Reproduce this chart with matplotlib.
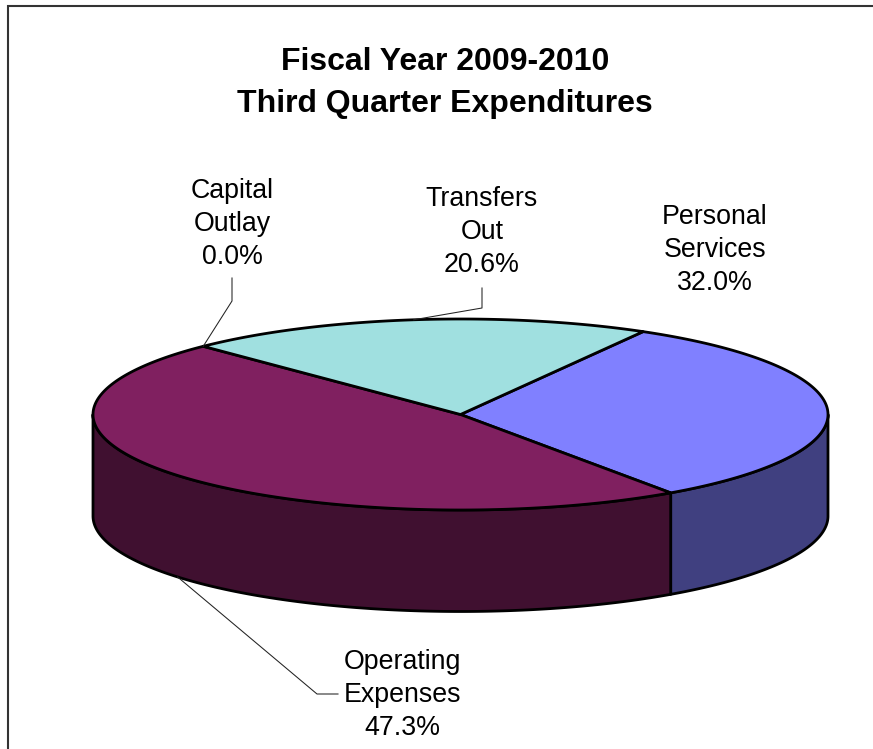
import numpy as np
import matplotlib
matplotlib.use("Agg")
import matplotlib.pyplot as plt
from matplotlib.patches import Polygon

plt.rcParams['font.family'] = ['Liberation Sans', 'DejaVu Sans']

# Third-quarter expenditure shares, in percent, clockwise from the first slice
categories = ["Personal\nServices", "Operating\nExpenses", "Capital\nOutlay", "Transfers\nOut"]
shares = [32.0, 47.3, 0.0, 20.6]
top_colors = ["#8080FF", "#802060", "#FFFFE0", "#A0E0E0"]
wall_colors = ["#404080", "#401030", "#808070", "#507070"]
title_lines = "Fiscal Year 2009-2010\nThird Quarter Expenditures"

# Label centres and optional leader elbows, in pixels
label_pos = [(715, 250), (402, 695), (232, 224), (482, 232)]
leader_elbow = [None, [(317, 694), (338, 694)], [(232, 301), (232, 278)], [(482, 308), (482, 288)]]

# Disc geometry in pixels
CX, CY, RX, RY, DEPTH = 460.5, 414.5, 367.5, 95.5, 101.5
START = 60.2
EDGE = 2.0


def rim(deg, drop=0.0):
    a = np.radians(deg)
    return np.column_stack([CX + RX * np.cos(a), CY - RY * np.sin(a) + drop])


fig = plt.figure(figsize=(8.73, 7.49), dpi=100)
ax = fig.add_axes([0, 0, 1, 1])
ax.set_xlim(0, 873)
ax.set_ylim(749, 0)
ax.axis("off")

# Chart frame runs off the right and bottom of the page
ax.plot([8, 8, 873], [749, 6, 6], color="#333333", lw=1.5, solid_joinstyle="miter", zorder=1)

# Slice boundaries in degrees, going clockwise
sweep = np.array(shares) / sum(shares) * 360.0
bounds = START - np.concatenate([[0], np.cumsum(sweep)])

# Side wall: only the front half of the disc is visible
for i in range(len(shares)):
    hi = min(bounds[i], 0.0)
    lo = max(bounds[i + 1], -180.0)
    if hi <= lo:
        continue
    t = np.linspace(hi, lo, 200)
    pts = np.vstack([rim(t), rim(t[::-1], DEPTH)])
    ax.add_patch(Polygon(pts, closed=True, facecolor=wall_colors[i], edgecolor="black",
                         lw=EDGE, joinstyle="round", zorder=2))

# Top face
for i in range(len(shares)):
    if sweep[i] == 0:
        continue
    t = np.linspace(bounds[i], bounds[i + 1], 300)
    pts = np.vstack([[CX, CY], rim(t)])
    ax.add_patch(Polygon(pts, closed=True, facecolor=top_colors[i], edgecolor="black",
                         lw=EDGE, joinstyle="round", zorder=3))

# Leader lines start at the middle of each slice's visible rim
for i, elbow in enumerate(leader_elbow):
    if elbow is None:
        continue
    mid = (bounds[i] + bounds[i + 1]) / 2.0
    drop = DEPTH if np.sin(np.radians(mid)) < 0 else 0.0
    start = rim(np.array([mid]), drop)[0]
    xs = [start[0]] + [p[0] for p in elbow]
    ys = [start[1]] + [p[1] for p in elbow]
    ax.plot(xs, ys, color="#222222", lw=0.75, zorder=4)

for name, share, (x, y) in zip(categories, shares, label_pos):
    ax.text(x, y, f"{name}\n{share:.1f}%", ha="center", va="center", fontsize=19.3,
            linespacing=1.36, color="black", zorder=5)

ax.text(445, 83, title_lines, ha="center", va="center", fontsize=23, fontweight="bold",
        linespacing=1.52, color="black", zorder=5)

fig.savefig("out.png", dpi=100, facecolor="white")
